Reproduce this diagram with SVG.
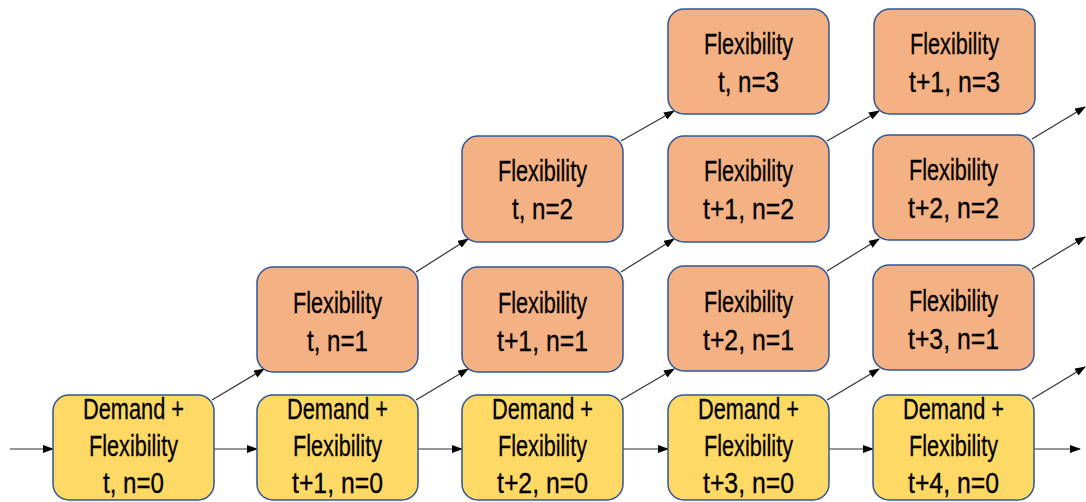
<svg xmlns="http://www.w3.org/2000/svg" width="1086" height="502" viewBox="0 0 1086 502">
<defs>
<style>
.y{fill:#FFD966;stroke:#2F5597;stroke-width:1.5}
.o{fill:#F4B183;stroke:#2F5597;stroke-width:1.5}
text{font-family:"Liberation Sans",Arial,sans-serif;font-size:29px;fill:#000;stroke:#000;stroke-width:0.3;text-anchor:middle}
.c line{stroke:#333;stroke-width:1.2;marker-end:url(#ah)}
</style>
<marker id="ah" markerWidth="11" markerHeight="8" refX="10" refY="4" orient="auto" markerUnits="userSpaceOnUse">
<path d="M0,0 L11,4 L0,8 z" fill="#000"/>
</marker>
</defs>
<rect width="1086" height="502" fill="#fff"/>
<g class="c" id="connectors">
<line x1="10" y1="449" x2="53" y2="449"/>
<line x1="214" y1="449" x2="257" y2="449"/>
<line x1="418" y1="449" x2="462" y2="449"/>
<line x1="623" y1="449" x2="668" y2="449"/>
<line x1="829" y1="449" x2="873" y2="449"/>
<line x1="1034" y1="449" x2="1080" y2="449"/>
<line x1="212" y1="400" x2="264" y2="369"/>
<line x1="416" y1="400" x2="468" y2="369"/>
<line x1="621" y1="400" x2="674" y2="369"/>
<line x1="827" y1="400" x2="879" y2="369"/>
<line x1="1032" y1="399" x2="1085" y2="367"/>
<line x1="416" y1="272" x2="468" y2="239"/>
<line x1="621" y1="272" x2="674" y2="239"/>
<line x1="827" y1="271" x2="879" y2="239"/>
<line x1="1032" y1="269" x2="1085" y2="237"/>
<line x1="621" y1="141" x2="674" y2="111"/>
<line x1="827" y1="141" x2="879" y2="111"/>
<line x1="1032" y1="139" x2="1085" y2="107"/>
</g>
<g id="d0"><rect class="y" x="53" y="395" width="161" height="105" rx="16"/>
<text x="133.5" y="419" textLength="101" lengthAdjust="spacingAndGlyphs">Demand +</text>
<text x="133.5" y="456" textLength="89" lengthAdjust="spacingAndGlyphs">Flexibility</text>
<text x="133.5" y="493" textLength="61" lengthAdjust="spacingAndGlyphs">t, n=0</text></g>
<g id="d1"><rect class="y" x="257" y="395" width="161" height="105" rx="16"/>
<text x="337.5" y="419" textLength="101" lengthAdjust="spacingAndGlyphs">Demand +</text>
<text x="337.5" y="456" textLength="89" lengthAdjust="spacingAndGlyphs">Flexibility</text>
<text x="337.5" y="493" textLength="91" lengthAdjust="spacingAndGlyphs">t+1, n=0</text></g>
<g id="d2"><rect class="y" x="462" y="395" width="161" height="105" rx="16"/>
<text x="542.5" y="419" textLength="101" lengthAdjust="spacingAndGlyphs">Demand +</text>
<text x="542.5" y="456" textLength="89" lengthAdjust="spacingAndGlyphs">Flexibility</text>
<text x="542.5" y="493" textLength="91" lengthAdjust="spacingAndGlyphs">t+2, n=0</text></g>
<g id="d3"><rect class="y" x="668" y="395" width="161" height="105" rx="16"/>
<text x="748.5" y="419" textLength="101" lengthAdjust="spacingAndGlyphs">Demand +</text>
<text x="748.5" y="456" textLength="89" lengthAdjust="spacingAndGlyphs">Flexibility</text>
<text x="748.5" y="493" textLength="91" lengthAdjust="spacingAndGlyphs">t+3, n=0</text></g>
<g id="d4"><rect class="y" x="873" y="395" width="161" height="105" rx="16"/>
<text x="953.5" y="419" textLength="101" lengthAdjust="spacingAndGlyphs">Demand +</text>
<text x="953.5" y="456" textLength="89" lengthAdjust="spacingAndGlyphs">Flexibility</text>
<text x="953.5" y="493" textLength="91" lengthAdjust="spacingAndGlyphs">t+4, n=0</text></g>
<g id="f1_1"><rect class="o" x="257" y="267" width="161" height="105" rx="16"/>
<text x="337.5" y="313" textLength="89" lengthAdjust="spacingAndGlyphs">Flexibility</text>
<text x="337.5" y="351" textLength="61" lengthAdjust="spacingAndGlyphs">t, n=1</text></g>
<g id="f2_1"><rect class="o" x="462" y="267" width="161" height="105" rx="16"/>
<text x="542.5" y="313" textLength="89" lengthAdjust="spacingAndGlyphs">Flexibility</text>
<text x="542.5" y="351" textLength="91" lengthAdjust="spacingAndGlyphs">t+1, n=1</text></g>
<g id="f3_1"><rect class="o" x="668" y="266" width="161" height="105" rx="16"/>
<text x="748.5" y="312" textLength="89" lengthAdjust="spacingAndGlyphs">Flexibility</text>
<text x="748.5" y="350" textLength="91" lengthAdjust="spacingAndGlyphs">t+2, n=1</text></g>
<g id="f4_1"><rect class="o" x="873" y="265" width="161" height="105" rx="16"/>
<text x="953.5" y="311" textLength="89" lengthAdjust="spacingAndGlyphs">Flexibility</text>
<text x="953.5" y="349" textLength="91" lengthAdjust="spacingAndGlyphs">t+3, n=1</text></g>
<g id="f2_2"><rect class="o" x="462" y="136" width="161" height="106" rx="16"/>
<text x="542.5" y="181" textLength="89" lengthAdjust="spacingAndGlyphs">Flexibility</text>
<text x="542.5" y="219" textLength="61" lengthAdjust="spacingAndGlyphs">t, n=2</text></g>
<g id="f3_2"><rect class="o" x="668" y="136" width="161" height="106" rx="16"/>
<text x="748.5" y="181" textLength="89" lengthAdjust="spacingAndGlyphs">Flexibility</text>
<text x="748.5" y="219" textLength="91" lengthAdjust="spacingAndGlyphs">t+1, n=2</text></g>
<g id="f4_2"><rect class="o" x="873" y="135" width="161" height="105" rx="16"/>
<text x="953.5" y="180" textLength="89" lengthAdjust="spacingAndGlyphs">Flexibility</text>
<text x="953.5" y="218" textLength="91" lengthAdjust="spacingAndGlyphs">t+2, n=2</text></g>
<g id="f3_3"><rect class="o" x="668" y="9" width="161" height="105" rx="16"/>
<text x="748.5" y="54" textLength="89" lengthAdjust="spacingAndGlyphs">Flexibility</text>
<text x="748.5" y="92" textLength="61" lengthAdjust="spacingAndGlyphs">t, n=3</text></g>
<g id="f4_3"><rect class="o" x="874" y="9" width="161" height="105" rx="16"/>
<text x="954.5" y="54" textLength="89" lengthAdjust="spacingAndGlyphs">Flexibility</text>
<text x="954.5" y="92" textLength="91" lengthAdjust="spacingAndGlyphs">t+1, n=3</text></g>
</svg>
